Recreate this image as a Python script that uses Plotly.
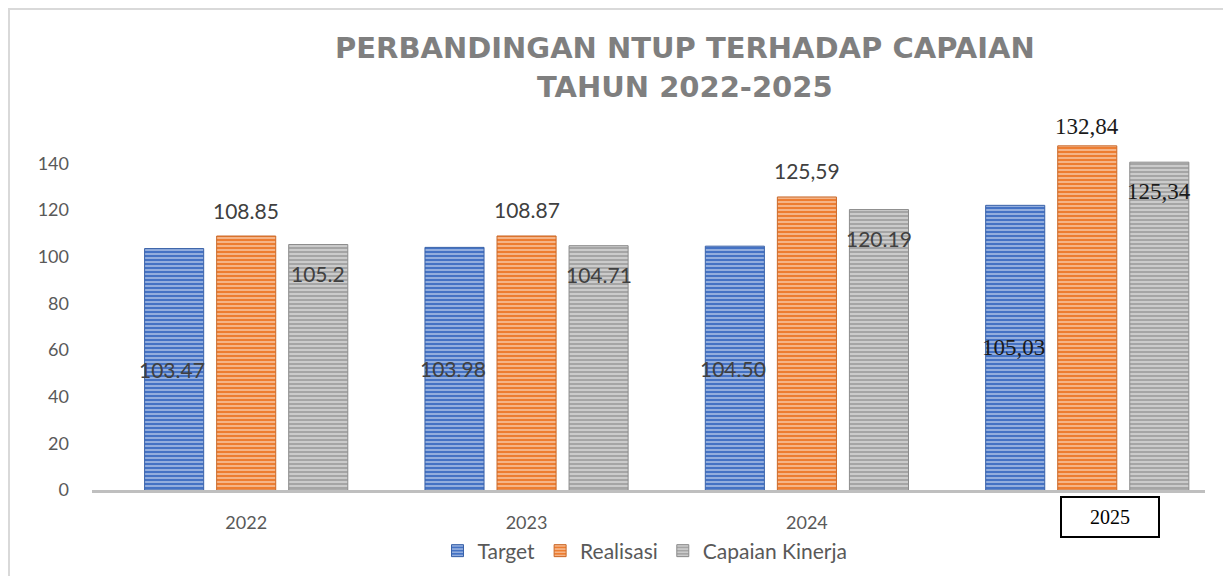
import plotly.graph_objects as go

years = ["2022", "2023", "2024", "2025"]
series_names = ["Target", "Realisasi", "Capaian Kinerja"]
target = [103.47, 103.98, 104.50, 122.0]
realisasi = [108.85, 108.87, 125.59, 147.5]
capaian = [105.2, 104.71, 120.19, 140.5]
target_labels = ["103.47", "103.98", "104.50", "105,03"]
realisasi_labels = ["108.85", "108.87", "125,59", "132,84"]
capaian_labels = ["105.2", "104.71", "120.19", "125,34"]
y_ticks = [0, 20, 40, 60, 80, 100, 120, 140]

colors = ["#4472C4", "#ED7D31", "#A5A5A5"]
line_colors = ["#3A62A8", "#C9692A", "#8C8C8C"]

W, H = 1231, 576
OFF = 8  # page body margin
L, T = 92 - OFF, 140 - OFF
plot_right, plot_bottom = 1205 - OFF, 490 - OFF
R, B = W - plot_right, H - plot_bottom
pw, ph = plot_right - L, plot_bottom - T


def px(xp):
    return (xp - OFF - L) / pw


def py(yp):
    return (plot_bottom - (yp - OFF)) / ph


fig = go.Figure()
for name, vals, c, lc in zip(series_names, [target, realisasi, capaian], colors, line_colors):
    fig.add_trace(go.Bar(
        x=years, y=vals, name=name,
        marker=dict(color=c, line=dict(color=lc, width=1),
                    pattern=dict(shape="-", fgcolor="white", fgopacity=0.6,
                                 size=4, solidity=0.35)),
    ))

ann = []
num_font = dict(family="Lato, Open Sans, sans-serif", size=21, color="#404040")
ser_font = dict(family="Liberation Serif, serif", size=23, color="#1a1a1a")
for i, yr in enumerate(years):
    f = ser_font if yr == "2025" else num_font
    ann.append(dict(x=i, y=target[i] / 2, text=target_labels[i], xshift=-74,
                    showarrow=False, font=f, xref="x", yref="y"))
    ann.append(dict(x=i, y=realisasi[i], text=realisasi_labels[i], xshift=0,
                    yshift=19 if yr == "2025" else 26,
                    showarrow=False, font=f, xref="x", yref="y"))
    ann.append(dict(x=i, y=capaian[i], text=capaian_labels[i], xshift=72,
                    yshift=-29, showarrow=False, font=f, xref="x", yref="y"))

# boxed 2025 category label
ann.append(dict(x=px(1110), y=py(517), xref="paper", yref="paper",
                xanchor="center", yanchor="middle",
                text=years[3], showarrow=False, bordercolor="black", borderwidth=2,
                borderpad=8, bgcolor="white", width=80,
                font=dict(family="Liberation Serif, serif", size=20, color="black")))

# title
title_font = dict(family="DejaVu Sans, sans-serif", size=29, color="#7F7F7F", weight="bold")
ann.append(dict(x=px(685), y=py(48), xref="paper", yref="paper",
                xanchor="center", yanchor="middle",
                text="PERBANDINGAN NTUP TERHADAP CAPAIAN", showarrow=False, font=title_font))
ann.append(dict(x=px(685), y=py(87), xref="paper", yref="paper",
                xanchor="center", yanchor="middle",
                text="TAHUN 2022-2025", showarrow=False, font=title_font))

fig.update_layout(
    width=W, height=H,
    margin=dict(l=L, r=R, t=T, b=B, autoexpand=False),
    plot_bgcolor="white", paper_bgcolor="white",
    barmode="group", bargap=0.229, bargroupgap=0.18,
    annotations=ann,
    showlegend=True,
    legend=dict(orientation="h", x=px(645), xanchor="center",
                y=py(551), yanchor="middle",
                font=dict(family="Lato, Open Sans, sans-serif", size=21, color="#595959"),
                itemwidth=30, traceorder="normal"),
    shapes=[dict(type="rect", xref="paper", yref="paper",
                 x0=px(9), x1=px(1250),
                 y0=py(600), y1=py(9),
                 line=dict(color="#D9D9D9", width=2), layer="below")],
)
fig.update_xaxes(type="category", range=[-0.55, 3.42], showgrid=False,
                 showline=True, linecolor="#BFBFBF", linewidth=3,
                 tickvals=years[:3], ticktext=years[:3], ticks="",
                 ticklabelstandoff=14,
                 tickfont=dict(family="Lato, Open Sans, sans-serif", size=18, color="#595959"))
fig.update_yaxes(range=[0, 150], tickvals=y_ticks, showgrid=False, zeroline=False,
                 showline=False, ticks="", ticklabelstandoff=22,
                 tickfont=dict(family="Lato, Open Sans, sans-serif", size=18, color="#595959"))

fig.write_html("out.html")
